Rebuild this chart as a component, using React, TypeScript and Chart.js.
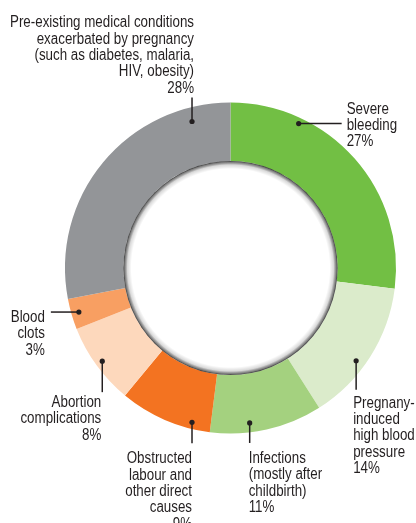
import React, { useEffect, useRef } from "react";
import { Chart, registerables } from "chart.js";

Chart.register(...registerables);

const categories = [
  "Severe bleeding",
  "Pregnany-induced high blood pressure",
  "Infections (mostly after childbirth)",
  "Obstructed labour and other direct causes",
  "Abortion complications",
  "Blood clots",
  "Pre-existing medical conditions exacerbated by pregnancy (such as diabetes, malaria, HIV, obesity)",
];
const values = [27, 14, 11, 9, 8, 3, 28];
const labelLines = [
  ["Severe", "bleeding"],
  ["Pregnany-", "induced", "high blood", "pressure"],
  ["Infections", "(mostly after", "childbirth)"],
  ["Obstructed", "labour and", "other direct", "causes"],
  ["Abortion", "complications"],
  ["Blood", "clots"],
  ["Pre-existing medical conditions", "exacerbated by pregnancy", "(such as diabetes, malaria,", "HIV, obesity)"],
];
const colors = ["#72BF44", "#DBEBCB", "#A4D17F", "#F37321", "#FDD8BC", "#F89F62", "#939598"];

// annotation layout: dot position within arc, leader end offset, text anchor offset
const annot = [
  { f: 0.26, rf: 0.9, lx: 43, ly: 0, tx: 48, ty: -10, align: "left" },
  { f: 0.58, rf: 0.84, lx: 0, ly: 29, tx: -3, ty: 47, align: "left" },
  { f: 0.64, rf: 0.84, lx: 0, ly: 20, tx: -1, ty: 40, align: "left" },
  { f: 0.21, rf: 0.89, lx: 0, ly: 21, tx: 0, ty: 41, align: "right" },
  { f: 0.5, rf: 0.88, lx: 0, ly: 31, tx: -1, ty: 46, align: "right" },
  { f: 0.5, rf: 0.87, lx: -28, ly: 0, tx: -34, ty: 10, align: "right" },
  { f: 0.854, rf: 0.76, lx: 0, ly: -24, tx: 2, ty: -94, align: "right" },
];
const FONT = '16px "Liberation Sans", Arial, sans-serif';
const LINE_H = 16.3;
const REF_TEXT = "Pre-existing medical conditions";
const REF_WIDTH = 184;

const labelPlugin = {
  id: "labelPlugin",
  afterDatasetsDraw(chart: any) {
    const ctx = chart.ctx as CanvasRenderingContext2D;
    const meta = chart.getDatasetMeta(0);
    const arcs = meta.data as any[];
    if (!arcs.length) return;
    const a0 = arcs[0];
    const cx = a0.x, cy = a0.y, ir = a0.innerRadius;
    // inner shadow of hole
    ctx.save();
    const g = ctx.createRadialGradient(cx, cy, ir - 8, cx, cy, ir);
    g.addColorStop(0, "rgba(0,0,0,0)");
    g.addColorStop(0.5, "rgba(0,0,0,0.15)");
    g.addColorStop(0.85, "rgba(30,30,30,0.6)");
    g.addColorStop(1, "rgba(30,30,30,0.9)");
    ctx.beginPath();
    ctx.arc(cx, cy, ir, 0, Math.PI * 2);
    ctx.fillStyle = g;
    ctx.fill();
    ctx.restore();

    ctx.save();
    ctx.font = FONT;
    const sx = REF_WIDTH / ctx.measureText(REF_TEXT).width;
    ctx.fillStyle = "#231F20";
    ctx.strokeStyle = "#231F20";
    ctx.lineWidth = 1.5;
    ctx.textBaseline = "alphabetic";
    arcs.forEach((arc: any, i: number) => {
      const p = arc.getProps(["x", "y", "startAngle", "endAngle", "innerRadius", "outerRadius"], true);
      const an = annot[i];
      const ang = p.startAngle + an.f * (p.endAngle - p.startAngle);
      const r = p.innerRadius + an.rf * (p.outerRadius - p.innerRadius);
      const dx = p.x + r * Math.cos(ang);
      const dy = p.y + r * Math.sin(ang);
      ctx.beginPath();
      ctx.moveTo(dx, dy);
      ctx.lineTo(dx + an.lx, dy + an.ly);
      ctx.stroke();
      ctx.beginPath();
      ctx.arc(dx, dy, 2.6, 0, Math.PI * 2);
      ctx.fill();
      const lines = [...labelLines[i], values[i] + "%"];
      ctx.textAlign = an.align as CanvasTextAlign;
      lines.forEach((t, k) => {
        ctx.save();
        ctx.translate(dx + an.tx, dy + an.ty + k * LINE_H);
        ctx.scale(sx, 1);
        ctx.fillText(t, 0, 0);
        ctx.restore();
      });
    });
    ctx.restore();
  },
};

export default function App() {
  const ref = useRef<HTMLCanvasElement>(null);
  useEffect(() => {
    if (!ref.current) return;
    const chart = new Chart(ref.current, {
      type: "doughnut",
      data: {
        labels: categories,
        datasets: [
          {
            data: values,
            backgroundColor: colors,
            borderWidth: 0,
          },
        ],
      },
      options: {
        animation: false,
        responsive: true,
        maintainAspectRatio: false,
        cutout: "64.7%",
        layout: { padding: { left: 65, right: 20, top: 102.5, bottom: 89.5 } },
        plugins: { legend: { display: false }, tooltip: { enabled: false } },
      },
      plugins: [labelPlugin],
    });
    return () => chart.destroy();
  }, []);
  return (
    <div style={{ position: "fixed", left: 0, top: 0, width: 416, height: 523, background: "#fff" }}>
      <canvas ref={ref} />
    </div>
  );
}
